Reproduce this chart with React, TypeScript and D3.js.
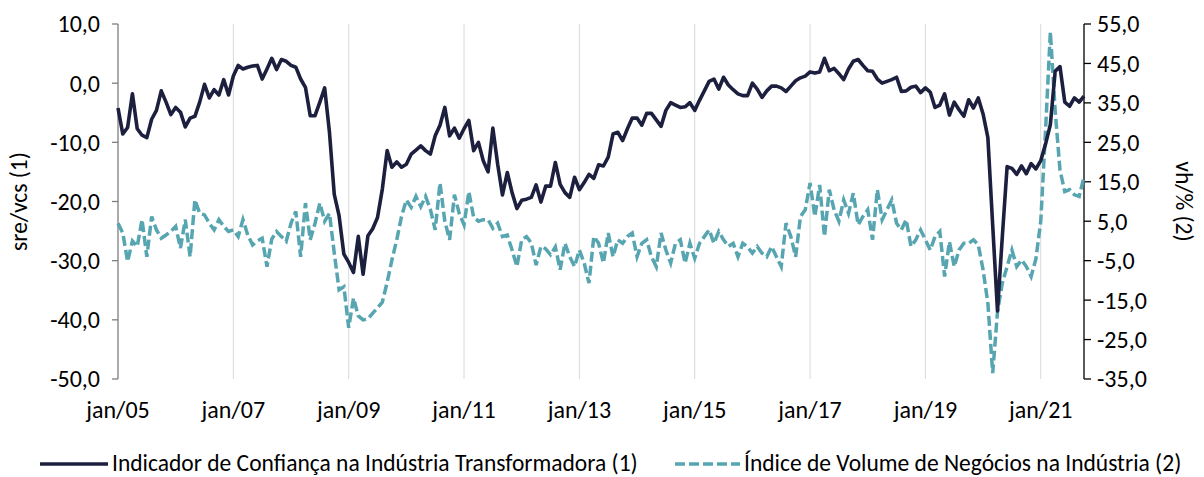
import React from 'react';
import * as d3 from 'd3';

// monthly series, jan/05 .. out/21
const confianca = [
  -4.2, -8.6, -7.5, -1.8, -7.7, -8.8, -9.2, -6.1, -4.6, -1.3,
  -3.2, -5.3, -4.1, -4.9, -7.4, -5.9, -5.6, -3.2, -0.2, -2.5,
  -1.1, -2.0, 0.6, -2.0, 1.2, 3.0, 2.4, 2.7, 2.9, 3.0,
  0.7, 2.4, 4.2, 2.3, 4.0, 3.7, 3.0, 2.7, 0.7, -0.7,
  -5.5, -5.5, -3.2, -0.8, -8.3, -18.8, -22.4, -28.9, -30.3, -32.0,
  -25.9, -32.3, -25.8, -24.6, -22.7, -17.9, -11.4, -14.2, -13.3, -14.2,
  -13.7, -12.0, -11.3, -10.6, -11.4, -12.0, -8.9, -7.1, -4.1, -8.9,
  -7.6, -9.3, -7.7, -6.3, -11.4, -10.0, -13.1, -15.0, -7.6, -13.7,
  -18.9, -15.1, -18.5, -21.2, -19.8, -19.6, -19.3, -17.2, -20.1, -17.4,
  -17.4, -13.4, -17.1, -18.5, -19.3, -15.9, -18.0, -16.8, -15.4, -16.1,
  -13.8, -14.0, -12.5, -8.6, -8.3, -9.7, -7.7, -5.9, -5.9, -7.1,
  -5.1, -5.1, -6.2, -7.3, -4.6, -3.3, -3.7, -4.1, -4.0, -3.3,
  -4.6, -2.9, -1.3, 0.3, 0.7, -1.0, 1.0, -0.3, -1.1, -1.8,
  -2.1, -2.1, 0.0, -1.0, -2.4, -1.3, -0.5, -0.5, -0.8, -1.4,
  -0.5, 0.4, 0.9, 1.2, 1.9, 1.7, 1.9, 4.2, 2.1, 2.5,
  1.6, 0.6, 2.4, 3.7, 4.0, 3.0, 2.1, 2.0, 0.7, 0.0,
  0.3, 0.6, 1.0, -1.4, -1.3, -0.7, -0.5, -1.6, -0.8, -1.5,
  -4.1, -3.7, -1.8, -5.4, -3.2, -4.5, -5.6, -2.8, -4.2, -2.5,
  -5.2, -9.2, -24.0, -38.5, -26.0, -14.1, -14.4, -15.4, -14.0, -15.3,
  -13.6, -14.5, -13.1, -10.3, -7.0, 2.0, 2.8, -3.2, -3.9, -2.5,
  -3.2, -2.2,
];

const volume = [
  4.5, 2.0, -5.2, 0.0, -1.4, 5.4, -4.0, 6.2, 2.8, 0.7,
  1.5, 2.4, 3.7, -1.8, 5.4, -4.0, 10.4, 7.0, 6.6, 4.5,
  2.8, 5.4, 3.7, 2.4, 2.8, 1.1, 5.4, 1.5, -1.0, 0.0,
  0.7, -6.5, 0.5, 2.4, 1.1, -0.1, 4.5, 7.5, -4.0, 9.6,
  0.3, 4.5, 9.6, 5.0, 7.0, -3.1, -12.4, -11.6, -22.0, -14.5,
  -19.0, -20.0, -19.8, -18.3, -17.0, -15.5, -10.5, -4.8, 0.3, 6.2,
  10.4, 8.5, 11.3, 8.7, 11.3, 8.0, 2.8, 14.7, 5.0, 0.3,
  11.7, 7.0, 4.1, 12.5, 6.0, 5.0, 5.4, 5.4, 3.2, 4.5,
  1.1, 1.5, -2.3, -6.5, 0.3, 1.1, -0.5, -6.1, -1.4, -2.0,
  -3.5, -1.5, -7.3, -0.6, -4.0, -6.5, -2.3, -5.6, -10.7, 1.1,
  -0.6, -5.6, 2.0, -4.0, 0.3, -0.6, 1.1, 2.0, -4.0, -0.6,
  0.3, -4.0, -6.5, 2.0, -2.3, -5.6, -0.6, 0.3, -5.6, -0.6,
  -4.4, -0.6, 1.1, 2.8, -0.6, 2.4, 0.3, -1.4, -0.6, -4.0,
  -0.6, -1.5, -3.1, -1.4, -3.1, -4.0, -1.4, -4.0, -6.5, 4.5,
  1.1, -4.0, 6.2, 7.9, 14.7, 6.2, 14.2, 1.1, 13.0, 7.9,
  5.0, 10.4, 7.0, 12.1, 4.1, 6.2, 7.9, 0.3, 13.0, 5.4,
  7.9, 10.4, 4.5, 2.8, 5.4, -1.4, 0.3, 2.8, 0.3, -2.3,
  1.1, 2.4, -9.0, -0.2, -6.5, -2.3, -0.6, -0.6, 0.3, -1.0,
  -7.3, -15.8, -33.5, -18.0, -10.7, -6.5, -2.3, -6.5, -4.8, -6.5,
  -9.0, -4.5, 5.0, 28.0, 53.0, 33.0, 18.0, 12.5, 13.0, 11.7,
  11.3, 16.3,
];

const xTickLabels = ['jan/05', 'jan/07', 'jan/09', 'jan/11', 'jan/13', 'jan/15', 'jan/17', 'jan/19', 'jan/21'];
const leftTicks = [10, 0, -10, -20, -30, -40, -50];
const rightTicks = [55, 45, 35, 25, 15, 5, -5, -15, -25, -35];
const seriesNames = [
  'Indicador de Confiança na Indústria Transformadora (1)',
  'Índice de Volume de Negócios na Indústria (2)',
];

const W = 1204;
const H = 477;
const FONT = 'Carlito, Lato, sans-serif';
const DARK = '#1c1f3e';
const TEAL = '#57a5b1';

const fmt = (v: number) => v.toFixed(1).replace('.', ',');

export default function App() {
  const x = d3.scaleLinear().domain([0, confianca.length - 1]).range([118, 1084]);
  const yL = d3.scaleLinear().domain([-50, 10]).range([379, 24]);
  const yR = d3.scaleLinear().domain([-35, 55]).range([379, 24]);

  const lineL = d3.line<number>().x((_, i) => x(i)).y((d) => yL(d));
  const lineR = d3.line<number>().x((_, i) => x(i)).y((d) => yR(d));

  return (
    <svg width={W} height={H} style={{ position: 'absolute', left: 0, top: 0, background: '#fff' }}
      fontFamily={FONT}>
      {/* vertical gridlines every two years */}
      {xTickLabels.map((lab, k) => (
        k > 0 ? <line key={lab} x1={x(k * 24)} x2={x(k * 24)} y1={24} y2={379} stroke="#d9d9d9" strokeWidth={1} /> : null
      ))}

      {/* left axis */}
      <line x1={118} x2={118} y1={24} y2={379} stroke="#7f7f7f" strokeWidth={1.3} />
      {leftTicks.map((t) => (
        <g key={t}>
          <line x1={112} x2={118} y1={yL(t)} y2={yL(t)} stroke="#7f7f7f" strokeWidth={1.3} />
          <text x={100} y={yL(t)} dy="0.35em" textAnchor="end" fontSize={24} fill="#000">{fmt(t)}</text>
        </g>
      ))}

      {/* right axis */}
      <line x1={1084} x2={1084} y1={24} y2={379} stroke="#000" strokeWidth={1.3} />
      {rightTicks.map((t) => (
        <g key={t}>
          <line x1={1084} x2={1091} y1={yR(t)} y2={yR(t)} stroke="#000" strokeWidth={1.3} />
          <text x={1097} y={yR(t)} dy="0.35em" textAnchor="start" fontSize={24} fill="#000">{fmt(t)}</text>
        </g>
      ))}

      {/* x labels */}
      {xTickLabels.map((lab, k) => (
        <text key={lab} x={x(k * 24)} y={418} textAnchor="middle" fontSize={24} fill="#000">{lab}</text>
      ))}

      {/* axis titles */}
      <text transform={`translate(27,${(24 + 379) / 2}) rotate(-90)`} textAnchor="middle" fontSize={23.5} fill="#000">sre/vcs (1)</text>
      <text transform={`translate(1176,${(24 + 379) / 2}) rotate(90)`} textAnchor="middle" fontSize={23.5} fill="#000">vh/% (2)</text>

      {/* series */}
      <path d={lineR(volume) || ''} fill="none" stroke={TEAL} strokeWidth={3.5} strokeDasharray="10 4" />
      <path d={lineL(confianca) || ''} fill="none" stroke={DARK} strokeWidth={3.6} strokeLinejoin="round" />

      {/* legend */}
      <line x1={40} x2={108} y1={464} y2={464} stroke={DARK} strokeWidth={3.6} />
      <text x={112} y={471} fontSize={23.5} fill="#000">{seriesNames[0]}</text>
      <line x1={675} x2={740} y1={464} y2={464} stroke={TEAL} strokeWidth={3.5} strokeDasharray="10 4" />
      <text x={744} y={471} fontSize={23.5} fill="#000">{seriesNames[1]}</text>
    </svg>
  );
}
